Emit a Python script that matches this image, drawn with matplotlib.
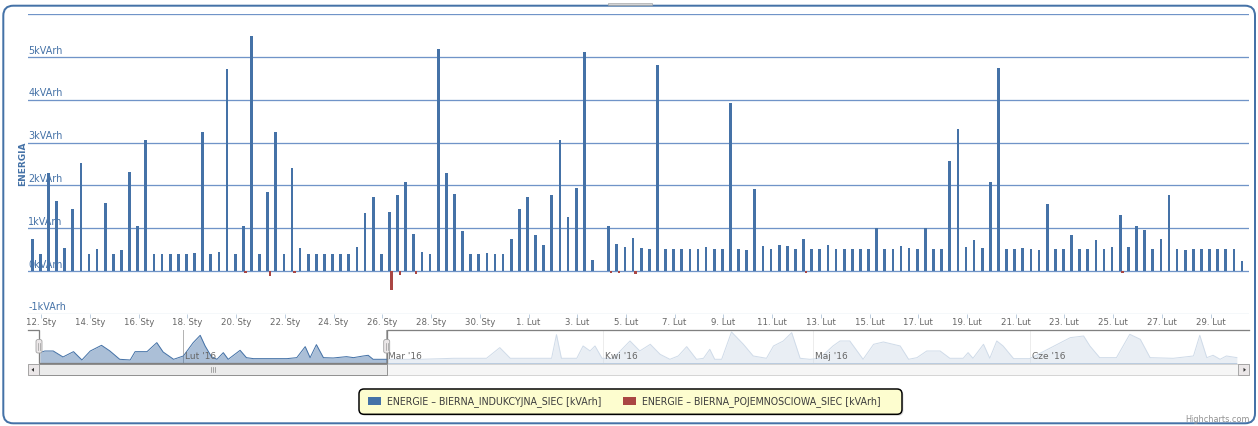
import datetime as dt
import numpy as np
import matplotlib
matplotlib.use('Agg')
import matplotlib.pyplot as plt
from matplotlib.patches import FancyBboxPatch, Rectangle, Polygon

# --- data ---
# 8-hour readings starting 11 Jan 2016 15:00, day-of-year units (1 Jan = 0)
start_doy = 10 + 15 / 24
blue_vals = [0.75, 0.40, 2.29, 1.63, 0.54, 1.46, 2.53, 0.40, 0.51, 1.59,
             0.40, 0.48, 2.31, 1.04, 3.07, 0.40, 0.40, 0.40, 0.40, 0.40,
             0.42, 3.25, 0.40, 0.44, 4.71, 0.40, 1.05, 5.48, 0.40, 1.84,
             3.25, 0.40, 2.41, 0.54, 0.40, 0.40, 0.40, 0.40, 0.40, 0.40,
             0.56, 1.35, 1.72, 0.40, 1.39, 1.78, 2.07, 0.87, 0.44, 0.40,
             5.18, 2.29, 1.80, 0.93, 0.40, 0.40, 0.42, 0.40, 0.40, 0.74,
             1.46, 1.72, 0.83, 0.60, 1.78, 3.07, 1.27, 1.95, 5.12, 0.26,
             np.nan, 1.05, 0.62, 0.56, 0.78, 0.54, 0.52, 4.81, 0.51, 0.51,
             0.51, 0.51, 0.52, 0.56, 0.51, 0.52, 3.92, 0.51, 0.48, 1.91,
             0.58, 0.51, 0.60, 0.58, 0.51, 0.75, 0.52, 0.51, 0.61, 0.51,
             0.52, 0.52, 0.51, 0.51, 1.00, 0.51, 0.51, 0.59, 0.54, 0.52,
             1.00, 0.51, 0.51, 2.58, 3.31, 0.56, 0.72, 0.54, 2.07, 4.75,
             0.52, 0.51, 0.54, 0.52, 0.48, 1.56, 0.52, 0.51, 0.83, 0.52,
             0.51, 0.72, 0.52, 0.56, 1.32, 0.56, 1.04, 0.96, 0.52, 0.75,
             1.78, 0.51, 0.48, 0.51, 0.51, 0.51, 0.51, 0.51, 0.51, 0.23]
red_idx = [26, 29, 32, 44, 45, 47, 71, 72, 74, 95, 134]
red_vals = [-0.05, -0.12, -0.05, -0.44, -0.10, -0.07, -0.05, -0.05, -0.06, -0.05, -0.05]

y_ticks = [-1, 0, 1, 2, 3, 4, 5]
grid_levels = [0, 1, 2, 3, 4, 5, 6]
x_tick_days = list(range(11, 60, 2))
pl_months = ['Sty', 'Lut', 'Mar', 'Kwi', 'Maj', 'Cze']

# navigator (overview) series: day-of-year and value
nav_day = [10.6, 11.3, 12.5, 13.9, 15.4, 16.6, 17.8, 19.4, 20.6, 22.0,
           23.5, 24.2, 25.9, 27.3, 28.2, 29.7, 31.1, 32.5, 33.5, 34.2,
           35.1, 35.9, 36.8, 37.5, 39.2, 40.1, 41.1, 43.9, 45.9, 47.3,
           48.5, 49.2, 50.1, 51.1, 52.5, 54.4, 55.4, 56.8, 57.5, 58.2,
           60.1, 64.9, 69.7, 74.4, 76.3, 77.8, 80.1, 83.7, 84.4, 85.1,
           87.3, 88.2, 89.2, 89.9, 90.9, 92.5, 94.9, 96.3, 97.8, 99.2,
           100.6, 101.8, 103.0, 104.4, 105.4, 106.3, 107.0, 108.0, 109.4, 111.1,
           112.5, 114.4, 115.4, 116.8, 118.0, 119.2, 120.6, 122.0, 123.9, 124.9,
           126.3, 128.2, 129.7, 131.1, 133.5, 134.7, 135.9, 137.3, 139.2, 140.6,
           142.5, 143.2, 143.9, 145.4, 146.3, 147.3, 148.2, 149.7, 152.0, 157.8,
           159.7, 160.6, 162.0, 164.4, 166.3, 167.8, 169.2, 172.5, 175.4, 176.3,
           177.3, 178.2, 179.2, 180.1, 181.6]
nav_val = [0.96, 1.11, 1.11, 0.57, 1.05, 0.30, 1.11, 1.62, 1.11, 0.36,
           0.30, 1.05, 1.05, 1.86, 1.02, 0.36, 0.66, 1.86, 2.52, 1.56,
           0.60, 0.36, 0.96, 0.36, 1.17, 0.51, 0.42, 0.42, 0.42, 0.51,
           1.50, 0.51, 1.68, 0.51, 0.48, 0.60, 0.51, 0.66, 0.72, 0.36,
           0.36, 0.36, 0.45, 0.45, 1.41, 0.45, 0.45, 0.45, 2.58, 0.45,
           0.45, 1.56, 1.11, 1.56, 0.45, 0.45, 2.01, 1.11, 1.71, 0.81,
           0.36, 0.66, 1.50, 0.36, 0.45, 1.26, 0.36, 0.36, 2.82, 1.71,
           0.66, 0.45, 1.56, 2.01, 2.76, 0.45, 0.36, 0.45, 1.56, 2.01,
           2.01, 0.36, 1.71, 1.92, 1.56, 0.36, 0.51, 1.11, 1.11, 0.45,
           0.45, 0.96, 0.45, 1.71, 0.45, 2.01, 1.56, 0.42, 0.42, 2.31,
           2.46, 1.56, 0.51, 0.51, 2.61, 2.16, 0.51, 0.45, 0.66, 2.52,
           0.51, 0.72, 0.36, 0.66, 0.51]
nav_months = [31, 60, 91, 121, 152]
sel_start, sel_end = 10.47, 60.14

series_names = ['ENERGIE – BIERNA_INDUKCYJNA_SIEC [kVArh]',
                'ENERGIE – BIERNA_POJEMNOSCIOWA_SIEC [kVArh]']
BLUE, RED = '#4572A7', '#AA4643'
GRID = '#7094c8'

W, H = 1258, 426
fig = plt.figure(figsize=(W / 72, H / 72), dpi=72)
fig.patch.set_facecolor('white')


def box(x0, y0, x1, y1):
    # pixel box (origin top-left) -> figure rect
    return [x0 / W, 1 - y1 / H, (x1 - x0) / W, (y1 - y0) / H]


def doy_label(d, fmt):
    date = dt.date(2016, 1, 1) + dt.timedelta(days=d)
    return fmt.format(day=date.day, mon=pl_months[date.month - 1])


# --- main chart ---
px_day = 24.36
ax = fig.add_axes(box(27.7, 14.2, 1249.3, 313.8))
ax.set_xlim(10.442, 60.589)
ax.set_ylim(-1, 6)
ax.axis('off')

for v in grid_levels:
    ax.axhline(v, color=GRID, lw=1.3, zorder=1)
ax.axhline(-1, color='#C0D0E0', lw=1.3, zorder=1)

for v in y_ticks:
    ax.text(10.442 + 0.5 / px_day, v + 1.5 / 42.8, f'{v}kVArh', ha='left', va='bottom',
            fontsize=9.6, color=BLUE, zorder=2)

t = start_doy + np.arange(len(blue_vals)) / 3
ax.bar(t, blue_vals, width=2.7 / px_day, color=BLUE, lw=0, zorder=3)
t_red = t[red_idx] + 2.3 / px_day
ax.bar(t_red, red_vals, width=2.7 / px_day, color=RED, lw=0, zorder=3)

ax.vlines(x_tick_days, -1 - 4.5 / 42.8, -1, color='#C0D0E0', lw=1, clip_on=False)
for d in x_tick_days:
    ax.text(d, -1 - 4.5 / 42.8, doy_label(d, '{day}. {mon}'), ha='center', va='top',
            fontsize=8.6, color='#666666', clip_on=False)

fig.text(22.5 / W, 1 - 163.5 / H, 'ENERGIA', rotation=90, ha='center', va='center',
         fontsize=9, fontweight='bold', color=BLUE)

# --- navigator ---
nav = fig.add_axes(box(39, 330, 1238, 363.3))
nav.set_xlim(sel_start, 181.76)
nav.set_ylim(0, 3)
nav.axis('off')
for m in nav_months:
    nav.axvline(m, color='#b4b4b4', lw=1, zorder=1)
nav.fill_between(nav_day, nav_val, 0, color=BLUE, alpha=0.45, lw=0, zorder=2)
nav.plot(nav_day, nav_val, color=BLUE, lw=1, zorder=2)
nav.axvspan(sel_end, 181.76, color='white', alpha=0.75, lw=0, zorder=3)
for m in nav_months:
    nav.text(m + 2 / 7, 0.57, doy_label(m, "{mon} '16"), ha='left', va='center',
             fontsize=9, color='#666666', zorder=4)

# --- overlay: frame, navigator outline, scrollbar, legend ---
ov = fig.add_axes([0, 0, 1, 1])
ov.set_xlim(0, W)
ov.set_ylim(H, 0)
ov.axis('off')

ov.add_patch(FancyBboxPatch((3.3, 5.7), 1251.7, 417.6, boxstyle='round,pad=0,rounding_size=10',
                            fc='none', ec=BLUE, lw=2))
ov.add_patch(Rectangle((608, 2.5), 44, 2.8, fc='#d4d4d4', ec='#a0a0a0', lw=0.6))

hx0, hx1 = 39, 386.7
ov.plot([27.7, hx0, hx0, hx1, hx1, 1249.3], [330, 330, 363.3, 363.3, 330, 330],
        color='#808080', lw=1.3, solid_joinstyle='miter')
for hx in (hx0, hx1):
    ov.add_patch(FancyBboxPatch((hx - 3, 339.5), 6, 13.5, boxstyle='round,pad=0,rounding_size=2',
                                fc='#ebe7e8', ec='#a0a0a0', lw=0.8, zorder=5))
    ov.plot([hx - 0.8, hx - 0.8], [343, 349.5], color='#999999', lw=0.7, zorder=6)
    ov.plot([hx + 0.8, hx + 0.8], [343, 349.5], color='#999999', lw=0.7, zorder=6)

# scrollbar
sb_y0, sb_y1 = 364.3, 375.3
ov.add_patch(Rectangle((27.5, sb_y0), 1249.3 - 27.5, sb_y1 - sb_y0, fc='#f6f6f6', ec='#cccccc', lw=0.8))
ov.add_patch(Rectangle((hx0, sb_y0), hx1 - hx0, sb_y1 - sb_y0, fc='#ebebeb', ec='#8a8a8a', lw=0.9))
mid = (hx0 + hx1) / 2
for dx in (-2, 0, 2):
    ov.plot([mid + dx, mid + dx], [367.3, 372.3], color='#888888', lw=0.7)
for bx0 in (27.5, 1238.3):
    ov.add_patch(Rectangle((bx0, sb_y0), 11, sb_y1 - sb_y0, fc='#ebe7e8', ec='#999999', lw=0.8))
ov.add_patch(Polygon([[31.5, 369.8], [34, 367.8], [34, 371.8]], closed=True, fc='#333333', ec='none'))
ov.add_patch(Polygon([[1246, 369.8], [1243.5, 367.8], [1243.5, 371.8]], closed=True, fc='#333333', ec='none'))

# legend
ov.add_patch(FancyBboxPatch((360.5, 390.5), 543, 25.3, boxstyle='round,pad=0,rounding_size=5',
                            fc='#c8c8c8', ec='none', alpha=0.6))
ov.add_patch(FancyBboxPatch((359, 389), 543, 25.3, boxstyle='round,pad=0,rounding_size=5',
                            fc='#fdfdcf', ec='black', lw=1.5))
for sx, tx, col, name in ((368.3, 386.7, BLUE, series_names[0]), (623.3, 641.7, RED, series_names[1])):
    ov.add_patch(Rectangle((sx, 397), 12.7, 8.3, fc=col, ec='none'))
    ov.text(tx, 401.3, name, ha='left', va='center', fontsize=9.5, color='#3d3d3d')

ov.text(1250, 419.3, 'Highcharts.com', ha='right', va='center', fontsize=8.1, color='#909090')

fig.savefig('out.png', dpi=72)
